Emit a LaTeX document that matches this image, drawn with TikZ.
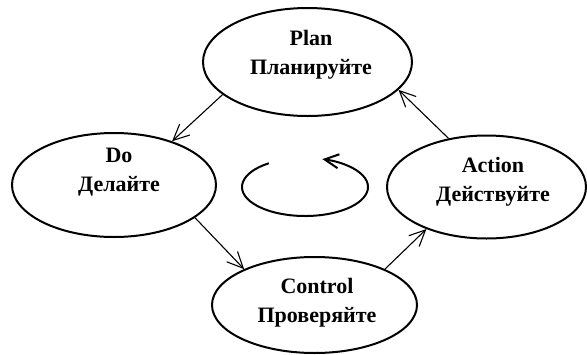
\documentclass[tikz,border=0pt]{standalone}
\usepackage{fontspec}
\setmainfont{Liberation Serif}
\usetikzlibrary{arrows.meta,shapes.geometric}
\begin{document}
\begin{tikzpicture}[x=1pt,y=-1pt,
  ell/.style={draw, ellipse, line width=2pt, inner sep=0pt},
  lbl/.style={align=center, font=\bfseries\fontsize{22}{29}\selectfont, inner sep=0pt},
  conn/.style={line width=1.1pt, -{Straight Barb[length=16pt,width=15pt]}},
  loopline/.style={line width=2pt, -{Straight Barb[length=14pt,width=14pt]}}
]
\useasboundingbox (0,0) rectangle (587,354);
\node[ell, minimum width=209pt, minimum height=108pt] (plan) at (307.5,62) {};
\node[ell, minimum width=204pt, minimum height=104pt] (do) at (114,185) {};
\node[ell, minimum width=199pt, minimum height=103pt] (action) at (486.5,187) {};
\node[ell, minimum width=205pt, minimum height=96pt] (control) at (314.5,305) {};

\node[lbl] (plantext) at (311,54.5) {Plan\\Планируйте};
\node[lbl] (dotext) at (119,172.5) {Do\\Делайте};
\node[lbl] (actiontext) at (493,181.5) {Action\\Действуйте};
\node[lbl] (controltext) at (317,302.5) {Control\\Проверяйте};

\draw[conn] (plan.201) -- (do.37);
\draw[conn] (do.-22) -- (control.153);
\draw[conn] (control.27) -- (action.215);
\draw[conn] (action.128) -- (plan.-17);

\coordinate (loopc) at (305,187);
\draw[loopline] (loopc) ++(235:63 and 29) arc[start angle=235, end angle=-74, x radius=63, y radius=29];
\end{tikzpicture}
\end{document}
